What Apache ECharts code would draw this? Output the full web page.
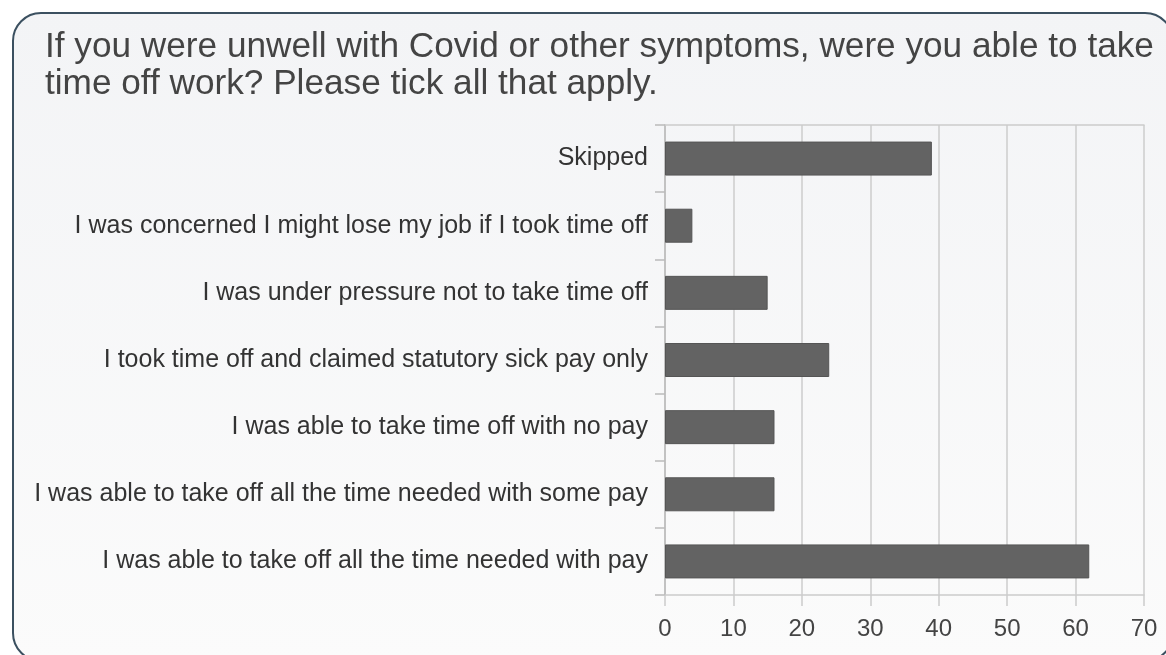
<!DOCTYPE html>
<html>
<head>
<meta charset="utf-8">
<script src="https://cdn.jsdelivr.net/npm/echarts@6/dist/echarts.min.js"></script>
<style>
html,body{margin:0;padding:0;background:#ffffff;}
#chart{width:1166px;height:655px;}
</style>
</head>
<body>
<div id="chart"></div>
<script>
const titleLines = [
  "If you were unwell with Covid or other symptoms, were you able to take",
  "time off work? Please tick all that apply."
];
const categories = [
  "Skipped",
  "I was concerned I might lose my job if I took time off",
  "I was under pressure not to take time off",
  "I took time off and claimed statutory sick pay only",
  "I was able to take time off with no pay",
  "I was able to take off all the time needed with some pay",
  "I was able to take off all the time needed with pay"
];
const responses = [39, 4, 15, 24, 16, 16, 62];
const axisMin = 0, axisMax = 70, axisStep = 10;

const chart = echarts.init(document.getElementById('chart'));
const font = 'Liberation Sans, Arial, sans-serif';
chart.setOption({
  animation: false,
  graphic: [{
    type: 'rect',
    z: -10,
    shape: {x: 13, y: 13, width: 1160, height: 648, r: 28},
    style: {
      fill: new echarts.graphic.LinearGradient(0, 0, 0, 1, [
        {offset: 0, color: '#f3f4f6'},
        {offset: 1, color: '#fbfbfb'}
      ]),
      stroke: '#3b5060',
      lineWidth: 2
    }
  }],
  title: {
    text: titleLines.join('\n'),
    left: 40,
    top: 24,
    textStyle: {fontFamily: font, fontSize: 35.2, fontWeight: 'normal', color: '#444444', lineHeight: 37}
  },
  grid: {left: 665, right: 22, top: 125, bottom: 60},
  xAxis: [{
    type: 'value',
    min: axisMin, max: axisMax, interval: axisStep,
    position: 'bottom',
    axisLine: {show: true, lineStyle: {color: '#cccccc', width: 1.5}},
    axisTick: {show: true, length: 11, lineStyle: {color: '#cccccc', width: 1.5}},
    splitLine: {show: true, lineStyle: {color: '#cccccc', width: 1.5}},
    axisLabel: {fontFamily: font, fontSize: 24, color: '#444444', margin: 22}
  }, {
    type: 'value',
    min: axisMin, max: axisMax, interval: axisStep,
    position: 'top',
    axisLine: {show: true, lineStyle: {color: '#cccccc', width: 1.5}},
    axisTick: {show: false},
    splitLine: {show: false},
    axisLabel: {show: false}
  }],
  yAxis: {
    type: 'category',
    data: categories,
    inverse: true,
    axisLine: {show: true, lineStyle: {color: '#bbbbbb', width: 1.5}},
    axisTick: {show: true, length: 10, lineStyle: {color: '#bbbbbb', width: 1.5}},
    axisLabel: {fontFamily: font, fontSize: 25, color: '#333333', margin: 17}
  },
  series: [{
    type: 'bar',
    data: responses,
    barWidth: 34,
    itemStyle: {color: '#636363', borderColor: '#555555', borderWidth: 1}
  }]
});
</script>
</body>
</html>
